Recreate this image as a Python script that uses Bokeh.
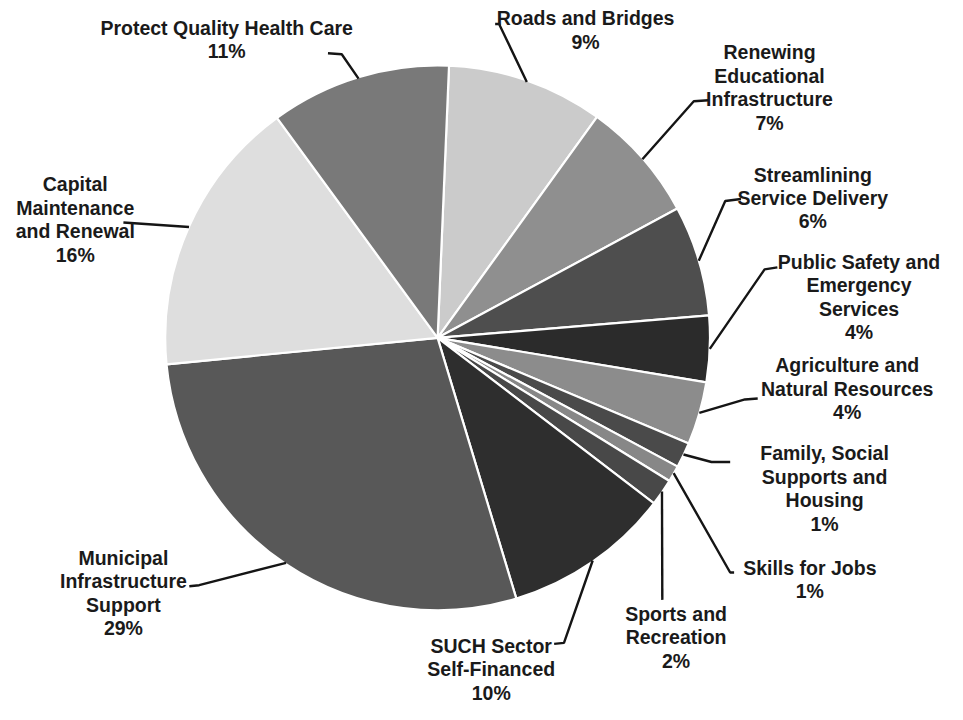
import numpy as np
from bokeh.plotting import figure
from bokeh.models import Range1d, ColumnDataSource
from bokeh.core.properties import value
from bokeh.embed import file_html
from bokeh.resources import INLINE

# ---- data (clockwise from 12 o'clock) ----
categories = [
    "Roads and Bridges",
    "Renewing\nEducational\nInfrastructure",
    "Streamlining\nService Delivery",
    "Public Safety and\nEmergency\nServices",
    "Agriculture and\nNatural Resources",
    "Family, Social\nSupports and\nHousing",
    "Skills for Jobs",
    "Sports and\nRecreation",
    "SUCH Sector\nSelf-Financed",
    "Municipal\nInfrastructure\nSupport",
    "Capital\nMaintenance\nand Renewal",
    "Protect Quality Health Care",
]
shares = [9.28, 7.17, 6.56, 3.92, 3.72, 1.50, 0.97, 1.58, 9.94, 28.10, 16.50, 10.70]
pct_labels = ["9%", "7%", "6%", "4%", "4%", "1%", "1%", "2%", "10%", "29%", "16%", "11%"]
colors = ["#cbcbcb", "#8f8f8f", "#4e4e4e", "#2b2b2b", "#8c8c8c", "#4a4a4a",
          "#878787", "#484848", "#2e2e2e", "#585858", "#dedede", "#797979"]

# ---- layout (reference pixel positions) ----
W, H = 963, 720
cx, cy_s, R = 444.5, 345.0, 277.0
start_deg = 2.4
label_pos = [(595, 18), (782, 53), (826, 178), (873, 267), (861, 373), (838, 463),
             (823, 580), (687, 627), (499, 660), (125, 570), (76, 188), (230, 28)]
leader_pts = [
    [(507, 24), (503, 24)],
    [(705, 103), (720, 102)],
    [(737, 205), (753, 203)],
    [(777, 275), (790, 273)],
    [(757, 408), (770, 407)],
    [(723, 472), (742, 472)],
    [(742, 585), (746, 585)],
    [(673, 613)],
    [(573, 657), (563, 658)],
    [(202, 598), (192, 599)],
    [(125, 227)],
    [(347, 55), (333, 54)],
]
line_gap = 24

def yd(ys):
    return H - ys

p = figure(width=947, height=704, output_backend="svg", toolbar_location=None,
           x_range=Range1d(0, W), y_range=Range1d(0, H), min_border=0)
p.axis.visible = False
p.grid.visible = False
p.outline_line_color = None
p.background_fill_color = "white"

tot = sum(shares)
deg = np.array(shares) / tot * 360.0
ends = start_deg + np.cumsum(deg)
starts = ends - deg
mids = (starts + ends) / 2

src = ColumnDataSource(dict(
    start=np.radians(90 - starts), end=np.radians(90 - ends), color=colors,
))
p.wedge(x=cx, y=yd(cy_s), radius=R, start_angle="start", end_angle="end",
        direction="clock", fill_color="color", line_color="white", line_width=2.2,
        source=src)

xs, ys = [], []
for m, pts in zip(mids, leader_pts):
    ex = cx + R * np.sin(np.radians(m))
    ey = cy_s - R * np.cos(np.radians(m))
    px = [ex] + [q[0] for q in pts]
    py = [yd(ey)] + [yd(q[1]) for q in pts]
    xs.append(px)
    ys.append(py)
p.multi_line(xs, ys, line_color="#151515", line_width=2.4)

tx, ty, tt = [], [], []
for name, pct, (lx, ly) in zip(categories, pct_labels, label_pos):
    lines = name.split("\n") + [pct]
    for i, ln in enumerate(lines):
        tx.append(lx)
        ty.append(yd(ly + i * line_gap))
        tt.append(ln)
p.text(x=tx, y=ty, text=tt, text_align="center", text_baseline="middle",
       text_font=value("Liberation Sans"), text_font_style="bold",
       text_font_size="19.5px", text_color="#1a1a1a")

open("out.html", "w").write(file_html(p, INLINE))
